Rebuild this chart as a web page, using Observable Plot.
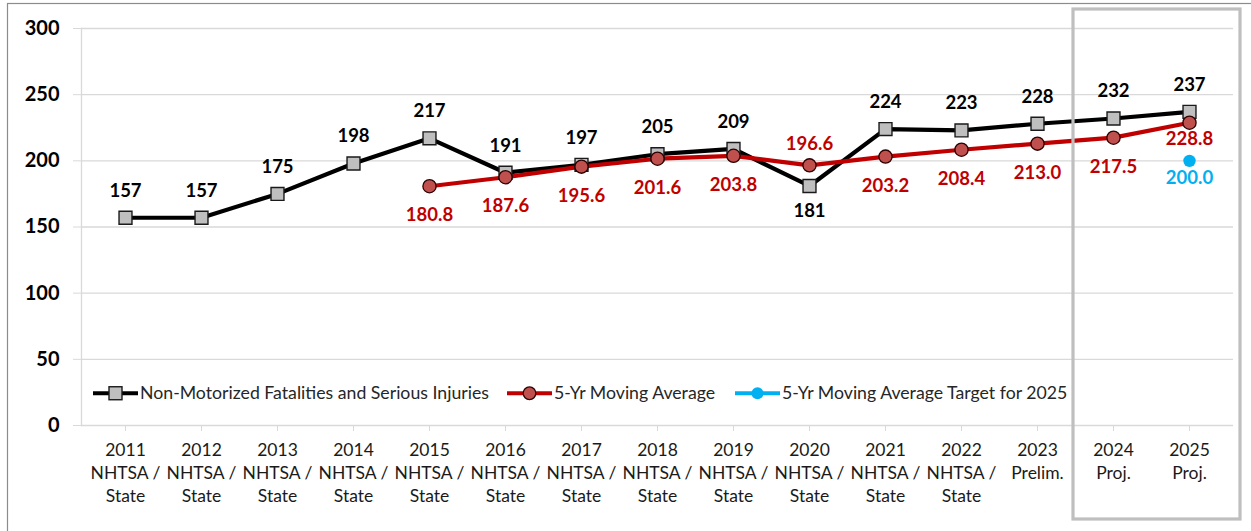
<!DOCTYPE html>
<html>
<head>
<meta charset="utf-8">
<script src="https://cdn.jsdelivr.net/npm/d3@7"></script>
<script src="https://cdn.jsdelivr.net/npm/@observablehq/plot@0.6"></script>
<style>
  html, body { margin: 0; padding: 0; background: #fff; }
  #chart { position: relative; width: 1251px; height: 531px; overflow: hidden; }
</style>
</head>
<body>
<div id="chart"></div>
<script>
// ---- data ----
const years = [2011, 2012, 2013, 2014, 2015, 2016, 2017, 2018, 2019, 2020, 2021, 2022, 2023, 2024, 2025];
const categories = [
  "2011\nNHTSA /\nState", "2012\nNHTSA /\nState", "2013\nNHTSA /\nState", "2014\nNHTSA /\nState",
  "2015\nNHTSA /\nState", "2016\nNHTSA /\nState", "2017\nNHTSA /\nState", "2018\nNHTSA /\nState",
  "2019\nNHTSA /\nState", "2020\nNHTSA /\nState", "2021\nNHTSA /\nState", "2022\nNHTSA /\nState",
  "2023\nPrelim.", "2024\nProj.", "2025\nProj."
];
const fatalities = [157, 157, 175, 198, 217, 191, 197, 205, 209, 181, 224, 223, 228, 232, 237];
const movingAvg = [null, null, null, null, 180.8, 187.6, 195.6, 201.6, 203.8, 196.6, 203.2, 208.4, 213.0, 217.5, 228.8];
const target = [null, null, null, null, null, null, null, null, null, null, null, null, null, null, 200.0];
const yTicks = [0, 50, 100, 150, 200, 250, 300];
const seriesNames = ["Non-Motorized Fatalities and Serious Injuries", "5-Yr Moving Average", "5-Yr Moving Average Target for 2025"];
const highlightYears = [2024, 2025];

// ---- table ----
const rows = years.map((y, i) => ({year: y, cat: categories[i], fatal: fatalities[i], ma: movingAvg[i], tgt: target[i]}));
const maRows = rows.filter(d => d.ma != null);
const tgtRows = rows.filter(d => d.tgt != null);

const BLACK = "#000000", RED = "#C00000", REDFILL = "#C0504D", BLUE = "#00B0F0", GRID = "#D9D9D9";
const FONT = "Lato, 'Noto Sans', sans-serif";

const plot = Plot.plot({
  width: 1251,
  height: 531,
  marginLeft: 81,
  marginRight: 18,
  marginTop: 28,
  marginBottom: 106,
  style: {fontFamily: FONT, background: "transparent", color: "#000"},
  x: {type: "point", domain: categories, padding: 0.5},
  y: {domain: [0, 300]},
  marks: [
    Plot.gridY(yTicks, {stroke: GRID, strokeOpacity: 1, strokeWidth: 1.3}),
    Plot.frame({anchor: "left", stroke: GRID, strokeWidth: 1.3}),
    Plot.axisY(yTicks, {tickSize: 8, tickPadding: 14, stroke: GRID, strokeOpacity: 1, fontSize: 20, fontWeight: "bold", fill: "#000", label: null}),
    Plot.axisX({tickSize: 6, tickPadding: 8, stroke: GRID, strokeOpacity: 1, fontSize: 17.5, lineHeight: 1.32, fill: "#1a1a1a", label: null, tickFormat: d => d}),
    // series lines
    Plot.line(rows, {x: "cat", y: "fatal", stroke: BLACK, strokeWidth: 4.2}),
    Plot.line(maRows, {x: "cat", y: "ma", stroke: RED, strokeWidth: 4.2}),
    Plot.dot(rows, {x: "cat", y: "fatal", symbol: "square", r: 7.3, fill: "#BFBFBF", stroke: "#1a1a1a", strokeWidth: 1.4}),
    Plot.dot(maRows, {x: "cat", y: "ma", r: 6.6, fill: REDFILL, stroke: "#2b0000", strokeWidth: 1.3}),
    Plot.dot(tgtRows, {x: "cat", y: "tgt", r: 6.2, fill: BLUE}),
    // labels
    Plot.text(rows.filter(d => d.year !== 2020), {x: "cat", y: "fatal", text: d => String(d.fatal), dy: -27, fontSize: 18.5, fontWeight: "bold", fill: "#000"}),
    Plot.text(rows.filter(d => d.year === 2020), {x: "cat", y: "fatal", text: d => String(d.fatal), dy: 25, fontSize: 18.5, fontWeight: "bold", fill: "#000"}),
    Plot.text(maRows.filter(d => d.year !== 2020 && d.year !== 2025), {x: "cat", y: "ma", text: d => d.ma.toFixed(1), dy: 29, fontSize: 18.5, fontWeight: "bold", fill: RED}),
    Plot.text(maRows.filter(d => d.year === 2020), {x: "cat", y: "ma", text: d => d.ma.toFixed(1), dy: -21, fontSize: 18.5, fontWeight: "bold", fill: RED}),
    Plot.text(maRows.filter(d => d.year === 2025), {x: "cat", y: "ma", text: d => d.ma.toFixed(1), dy: 16, fontSize: 18.5, fontWeight: "bold", fill: RED}),
    Plot.text(tgtRows, {x: "cat", y: "tgt", text: d => d.tgt.toFixed(1), dy: 17, fontSize: 18.5, fontWeight: "bold", fill: BLUE})
  ]
});

document.getElementById("chart").appendChild(plot);

// ---- decorations: outer frame, highlight box, legend ----
const svg = d3.select(plot);
const xs = plot.scale("x");
const ys = plot.scale("y");
const step = xs.apply(categories[1]) - xs.apply(categories[0]);

svg.insert("rect", ":first-child")
  .attr("x", 7.5).attr("y", 3.5).attr("width", 1260).attr("height", 540)
  .attr("fill", "none").attr("stroke", "#8c8c8c").attr("stroke-width", 1.2);

const hiStart = xs.apply(categories[years.indexOf(highlightYears[0])]) - step / 2 - 2;
const hiEnd = xs.apply(categories[years.indexOf(highlightYears[1])]) + step / 2 + 13;
svg.append("rect")
  .attr("x", hiStart).attr("y", 9).attr("width", hiEnd - hiStart).attr("height", 510)
  .attr("fill", "none").attr("stroke", "#BFBFBF").attr("stroke-width", 3.2);

// legend inside plot area
const legY = ys.apply(24);
const leg = svg.append("g").attr("font-family", FONT).attr("font-size", 17.7).attr("fill", "#262626").attr("text-anchor", "start");
const items = [
  {x0: 93, color: BLACK, marker: "square", name: seriesNames[0]},
  {x0: 507, color: RED, marker: "circle", name: seriesNames[1]},
  {x0: 735, color: BLUE, marker: "dot", name: seriesNames[2]}
];
items.forEach(it => {
  const g = leg.append("g");
  g.append("line").attr("x1", it.x0).attr("x2", it.x0 + 45).attr("y1", legY).attr("y2", legY)
    .attr("stroke", it.color).attr("stroke-width", 4.2);
  const cx = it.x0 + 22.5;
  if (it.marker === "square") {
    g.append("rect").attr("x", cx - 6.5).attr("y", legY - 6.5).attr("width", 13).attr("height", 13)
      .attr("fill", "#BFBFBF").attr("stroke", "#1a1a1a").attr("stroke-width", 1.4);
  } else if (it.marker === "circle") {
    g.append("circle").attr("cx", cx).attr("cy", legY).attr("r", 6.3)
      .attr("fill", REDFILL).attr("stroke", "#2b0000").attr("stroke-width", 1.3);
  } else {
    g.append("circle").attr("cx", cx).attr("cy", legY).attr("r", 6).attr("fill", BLUE);
  }
  g.append("text").attr("x", it.x0 + 47).attr("y", legY).attr("dy", "0.35em").attr("text-anchor", "start").text(it.name);
});
</script>
</body>
</html>
